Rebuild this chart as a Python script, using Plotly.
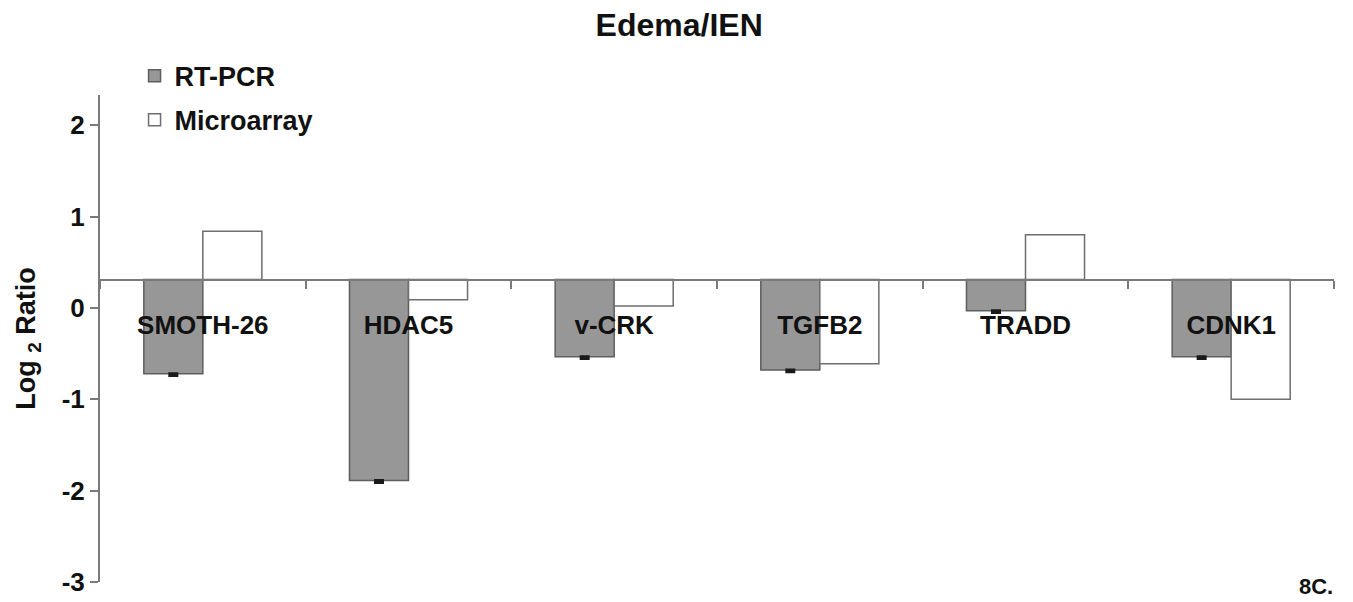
import plotly.graph_objects as go

# Genes compared in the Edema/IEN contrast
genes = ["SMOTH-26", "HDAC5", "v-CRK", "TGFB2", "TRADD", "CDNK1"]

# Log2 ratio reached by each bar
rt_pcr = [-0.72, -1.89, -0.535, -0.68, -0.03, -0.535]
microarray = [0.84, 0.09, 0.02, -0.61, 0.80, -1.00]

# Small standard-error whiskers under the RT-PCR bars
rt_pcr_err = [0.02, 0.02, 0.02, 0.02, 0.02, 0.02]

# Level at which the category axis crosses the value axis
axis_cross = 0.31

y_ticks = [2, 1, 0, -1, -2, -3]
y_min, y_max = -3.0, 2.33

FONT = "Arial, Liberation Sans, sans-serif"

fig = go.Figure()

fig.add_trace(go.Bar(
    name="<b>RT-PCR</b>",
    x=genes,
    y=[v - axis_cross for v in rt_pcr],
    base=axis_cross,
    marker=dict(color="#979797", line=dict(color="#5e5e5e", width=1.5)),
    error_y=dict(type="data", symmetric=False, array=[0] * len(genes),
                 arrayminus=rt_pcr_err, color="#1a1a1a", thickness=3, width=5),
    legendgroup="a",
))
fig.add_trace(go.Bar(
    name="<b>Microarray</b>",
    x=genes,
    y=[v - axis_cross for v in microarray],
    base=axis_cross,
    marker=dict(color="#ffffff", line=dict(color="#6e6e6e", width=1.5)),
    legendgroup="b",
))

cross_pos = (axis_cross - y_min) / (y_max - y_min)

fig.update_layout(
    width=1353,
    height=602,
    margin=dict(l=100, r=19, t=95, b=20, autoexpand=False),
    paper_bgcolor="white",
    plot_bgcolor="white",
    barmode="group",
    bargap=0.426,
    bargroupgap=0,
    font=dict(family=FONT, color="#111111"),
    title=dict(
        text="<b>Edema/IEN</b>",
        font=dict(size=32, family=FONT, color="#111111"),
        xref="container", x=0.502, xanchor="center",
        yref="container", y=1 - 25 / 602, yanchor="middle",
    ),
    legend=dict(
        x=0.028, xanchor="left",
        y=1.089, yanchor="top",
        font=dict(size=27, family=FONT, color="#111111"),
        traceorder="grouped",
        tracegroupgap=6,
        bgcolor="rgba(0,0,0,0)",
        itemclick=False,
    ),
    showlegend=True,
    xaxis=dict(
        anchor="free",
        position=cross_pos,
        showline=True,
        linecolor="#7a7a7a",
        linewidth=2,
        ticks="outside",
        tickson="boundaries",
        ticklen=8,
        tickwidth=1.5,
        tickcolor="#7a7a7a",
        tickfont=dict(size=26, family=FONT, color="#111111"),
        ticklabelstandoff=22,
        showgrid=False,
        zeroline=False,
        range=[-0.5, len(genes) - 0.5],
        tickmode="array",
        tickvals=genes,
        ticktext=[f"<b>{g}</b>" for g in genes],
        layer="above traces",
    ),
    yaxis=dict(
        range=[y_min, y_max],
        showline=True,
        linecolor="#7a7a7a",
        linewidth=2,
        ticks="outside",
        ticklen=8,
        tickwidth=1.5,
        tickcolor="#7a7a7a",
        tickmode="array",
        tickvals=y_ticks,
        ticktext=[f"<b>{t}</b>" for t in y_ticks],
        tickfont=dict(size=26, family=FONT, color="#111111"),
        showgrid=False,
        zeroline=False,
        title=dict(
            text="<b>Log <sub>2</sub> Ratio</b>",
            font=dict(size=27, family=FONT, color="#111111"),
            standoff=18,
        ),
    ),
)

fig.add_annotation(
    text="<b>8C.</b>",
    xref="paper", yref="paper",
    x=(1316 - 100) / 1234, y=(582 - 586) / 487,
    xanchor="center", yanchor="middle",
    showarrow=False,
    font=dict(size=22, family=FONT, color="#111111"),
)

fig.write_html("out.html")
